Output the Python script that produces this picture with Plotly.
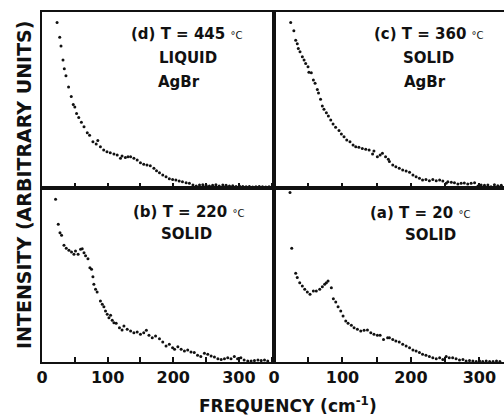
import plotly.graph_objects as go

# ---------------- data ----------------
# (d) T = 445 C, liquid AgBr  (top-left)
d_freq = [23, 27, 29, 32, 34, 36.5, 40.5, 44.6, 47.6, 50, 52.7, 56, 60, 64, 69, 72.5, 77.6, 82.6, 85,
          89, 94, 99, 104, 109.6, 114.6, 119.6, 122, 127, 131, 135, 140, 145, 150, 155, 160, 165, 170.5,
          174.5, 179, 184, 189, 194, 199, 204, 209, 214, 219.6, 224.6, 230, 235, 240, 245, 250, 255, 260,
          265, 270, 275.5, 280.5, 285.6, 290.6, 295.7, 300.8, 306, 311, 316, 321, 326, 331, 336, 341, 346]
d_int = [94, 85.6, 80.7, 72.7, 67.8, 63.8, 57.4, 52, 47.5, 46, 42.4, 40, 37.3, 34.8, 31.4, 30, 26.3, 25, 27,
         23.5, 21.6, 20.6, 20, 19.3, 18.7, 16.9, 18.2, 17.4, 17.8, 17.8, 16.9, 15.9, 14.4, 13.5, 13, 12.7, 11.2,
         9.8, 8.7, 7.4, 6.4, 5.3, 4.9, 4.5, 4, 3.6, 3, 2.7, 1.7, 1.1, 1.7, 1.9, 1.5, 1.1, 1.5,
         1.9, 1.1, 1.7, 1.5, 1.1, 1.3, 0.9, 1.1, 0.9, 0.7, 0.9, 0.6, 0.7, 0.9, 0.7, 0.6, 0.7]

# (c) T = 360 C, solid AgBr  (top-right)
c_freq = [24.4, 29, 31.7, 34, 35.5, 38, 41.4, 43.9, 46.3, 49.7, 51, 54.5, 57.5, 60, 63.3, 65, 68, 70.6, 73,
          76.5, 79.4, 82.9, 86.3, 90, 95, 98.4, 102.3, 106.3, 111, 115.5, 119.4, 124, 129, 134, 139, 144,
          146, 151, 155, 158.4, 163, 167, 168.6, 173.5, 178, 183, 188, 193, 198, 203, 207.6, 212.5, 217,
          222, 227, 232, 237, 242, 246.6, 251.5, 254, 259, 263.6, 268.6, 273.4, 278, 283, 288, 293, 298,
          302.6, 307.5, 312.4, 317, 322, 327, 332]
c_int = [94, 89.4, 84, 82, 79.3, 77.4, 74.6, 72.7, 70.8, 68.9, 65.7, 65.5, 61.3, 59.5, 56, 54, 50.4, 46.6, 44.7,
         42.8, 40.9, 38.6, 36.4, 34.5, 32.6, 30.7, 29.1, 27.3, 26.3, 24.4, 23.5, 23.1, 22.5, 22, 21.6, 19.3,
         21, 17.8, 18.7, 19.7, 17.8, 16.3, 15, 13, 12.1, 11.2, 10.2, 9.7, 8.9, 7.4, 6.4, 5.5, 4.5,
         4.9, 4.1, 4.9, 4.1, 4.5, 4, 2.7, 3.6, 3.2, 3, 2.3, 2.7, 2.8, 2.3, 2.7, 3, 1.1,
         1.7, 1.5, 1.7, 0.7, 1.9, 1.3, 1.5]

# (b) T = 220 C, solid  (bottom-left)
b_freq = [20.7, 24.8, 27.4, 29.8, 33.5, 37, 41, 45, 48.7, 51, 55, 58.8, 61.3, 64, 66.4, 70, 73, 75.5, 77.6,
          79, 81.6, 84, 89, 91.8, 94.3, 96.8, 99.4, 102, 104.5, 107, 109.6, 113, 118, 122, 124.8, 129.8,
          135, 140, 145, 150, 155, 159, 163, 168, 173, 179, 184, 189, 194, 199, 202, 207, 212, 217, 222,
          227, 232, 237, 242, 247.5, 252.6, 257.7, 262.7, 268, 273, 278, 283, 288, 293, 298, 303, 308,
          313.5, 318.6, 323.7, 329, 334, 339, 344]
b_int = [93.5, 79.2, 74.3, 72.8, 67.1, 65.4, 64.2, 63.2, 61.9, 63.8, 61.9, 64.8, 65.1, 62.8, 61, 59.4, 54.2, 53.3, 49,
         44.7, 41.8, 40.2, 35, 33.2, 31.8, 29.3, 27.4, 25.5, 26.9, 24, 22.6, 22.3, 19.7, 18.4, 20.7, 18.8,
         17.8, 16.8, 17.2, 15.9, 16.8, 18.2, 15.4, 14, 15, 13.4, 11.5, 9.2, 10.2, 8.2, 7.3, 8.8, 7.3, 6.3, 6.9,
         5.8, 5.4, 3.9, 3.1, 5, 4.4, 3.4, 2.9, 1.9, 1.5, 1.9, 2.5, 1.9, 3.1, 1.9, 2.5, 1.2,
         0.6, 0.6, 0.8, 1.2, 0.8, 1.2, 0.6]

# (a) T = 20 C, solid  (bottom-right)
a_freq = [23.4, 25.9, 31.7, 34, 37.6, 41.4, 44.9, 48.7, 52.6, 57.5, 61.8, 66.8, 70.6, 74, 76.5, 79, 83.8, 86.7,
          90.2, 93.6, 97.5, 100.9, 104.8, 108.2, 113, 117, 121.8, 126.7, 131.6, 136.5, 141.4, 146, 151, 155,
          160, 166, 168.6, 173.5, 178, 183, 188, 193, 198, 203, 207.6, 212.5, 217, 222, 227, 232, 237, 242,
          246.6, 251.5, 256, 261, 266, 271, 276, 280.7, 285.6, 290.5, 295.4, 300.3, 305, 310, 315, 320, 325, 330]
a_int = [97.4, 65.4, 51, 48.5, 45.6, 43.7, 41.8, 40.2, 38.9, 40.8, 40.8, 41.8, 43.3, 44.7, 45.6, 46.6, 42.7, 36.4,
         34.5, 31.8, 29.3, 26.5, 23.6, 22.3, 21.1, 19.7, 18.8, 17.8, 18.2, 18.4, 16.8, 15.9, 15.4, 15.4,
         13, 14, 14, 13, 12.1, 11.5, 10.2, 9.2, 8.2, 6.9, 6.3, 5.4, 4.4, 3.9, 3.1, 2.5, 1.9, 2.5,
         1.5, 3.1, 2.5, 2.5, 1.9, 1.2, 1.5, 0.6, 0.8, 0.6, 0.3, 0.6, 0.3, 0.6, 0.3, 0.3, 0.6, 0.3]

tick_vals = [0, 100, 200, 300]
tick_text = ["0", "100", "200", "300"]

panel_titles = ["(d) T = 445", "(c) T = 360", "(b) T = 220", "(a) T = 20"]
panel_states = ["LIQUID", "SOLID", "SOLID", "SOLID"]
panel_material = ["AgBr", "AgBr"]

x_title = "FREQUENCY (cm<sup>-1</sup>)"
y_title = "INTENSITY (ARBITRARY UNITS)"

# ---------------- figure ----------------
W, H = 504, 416
ML, MR, MT, MB = 42, 0, 12, 54
PW, PH = W - ML - MR, H - MT - MB
xsplit = 232 / PW
ysplit = 174 / PH

def paper(px, py):
    return (px - ML) / PW, (H - MB - py) / PH

INK = "#111111"
FONT = "DejaVu Sans"

fig = go.Figure()
series = [(d_freq, d_int, "x", "y"), (c_freq, c_int, "x2", "y2"),
          (b_freq, b_int, "x3", "y3"), (a_freq, a_int, "x4", "y4")]
for fx, fy, xa, ya in series:
    fig.add_trace(go.Scatter(x=fx, y=fy, xaxis=xa, yaxis=ya, mode="markers",
                             marker=dict(size=3, color=INK, line=dict(width=0)),
                             showlegend=False, hoverinfo="skip"))

def xax(domain, rng, labels):
    return dict(domain=domain, range=rng, showline=True, linecolor=INK, linewidth=2, mirror=True,
                ticks="inside", ticklen=5, tickwidth=1.5, tickcolor=INK,
                tickvals=tick_vals, ticktext=tick_text, showticklabels=labels,
                minor=dict(ticks="inside", tick0=0, dtick=50, ticklen=5, tickwidth=1.5, tickcolor=INK),
                tickfont=dict(family=FONT, size=16, color=INK, weight="bold"),
                showgrid=False, zeroline=False, fixedrange=True)

def yax(domain, anchor, mirror):
    return dict(domain=domain, range=[0, 100], anchor=anchor, showline=True, linecolor=INK,
                linewidth=2, mirror=mirror, ticks="", showticklabels=False,
                showgrid=False, zeroline=False, fixedrange=True)

xl = [0, xsplit]
xr = [xsplit, 1]
yt = [ysplit, 1]
yb = [0, ysplit]
rl = [0, 353.5]
rr = [0, 336]

fig.update_layout(
    width=W, height=H, margin=dict(l=ML, r=MR, t=MT, b=MB),
    paper_bgcolor="white", plot_bgcolor="white",
    xaxis=dict(xax(xl, rl, False), anchor="y"),
    yaxis=yax(yt, "x", True),
    xaxis2=dict(xax(xr, rr, False), anchor="y2"),
    yaxis2=yax(yt, "x2", False),
    xaxis3=dict(xax(xl, rl, True), anchor="y3"),
    yaxis3=yax(yb, "x3", True),
    xaxis4=dict(xax(xr, rr, True), anchor="y4"),
    yaxis4=yax(yb, "x4", False),
)

ann = []
def text(px, py, s, size, angle=0):
    x, y = paper(px, py)
    ann.append(dict(x=x, y=y, xref="paper", yref="paper", text=s, showarrow=False,
                    xanchor="center", yanchor="middle", textangle=angle,
                    font=dict(family=FONT, size=size, color=INK, weight="bold")))

deg = ' <span style="font-size:10px;font-weight:normal">°C</span>'
# (d)
text(186, 34, panel_titles[0] + deg, 15)
text(188, 58, panel_states[0], 15)
text(179, 82, panel_material[0], 15)
# (c)
text(429, 34, panel_titles[1] + deg, 15)
text(428, 58, panel_states[1], 15)
text(425, 82, panel_material[1], 15)
# (b)
text(188, 212, panel_titles[2] + deg, 15)
text(186, 234, panel_states[2], 15)
# (a)
text(420, 213, panel_titles[3] + deg, 15)
text(430, 235, panel_states[3], 15)

text(288, 405, x_title, 17)
text(24, 185, y_title, 19, angle=-90)

fig.update_layout(annotations=ann)
fig.write_html("out.html", config={"displayModeBar": False},
               post_script="document.body.style.margin='0';document.body.style.overflow='hidden';")
